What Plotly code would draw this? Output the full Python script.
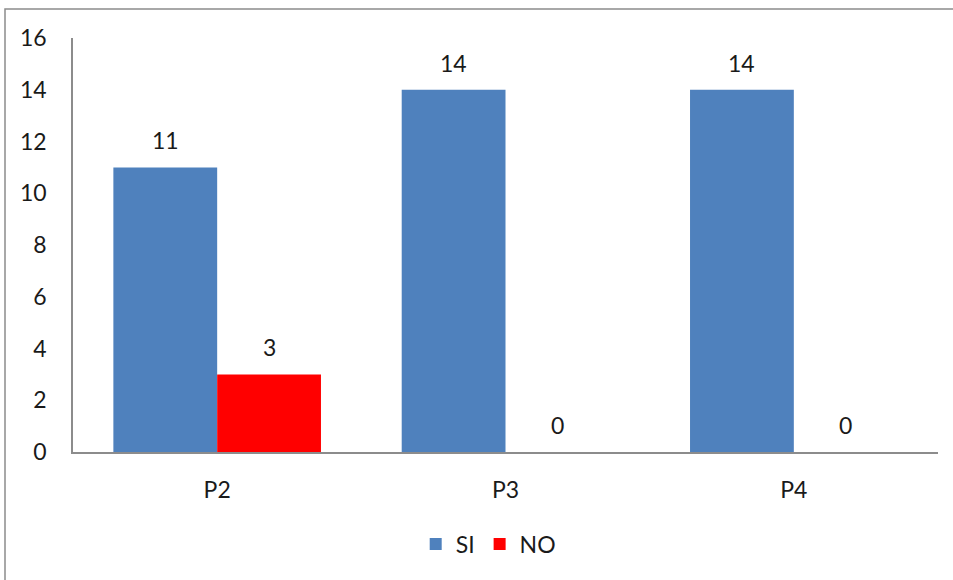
import plotly.graph_objects as go

categories = ["P2", "P3", "P4"]
si_values = [11, 14, 14]
no_values = [3, 0, 0]
y_ticks = [0, 2, 4, 6, 8, 10, 12, 14, 16]

FONT = "Lato, Open Sans, sans-serif"
BLUE = "#4F81BD"
RED = "#FF0000"
TXT = "#1a1a1a"

fig = go.Figure()
fig.add_trace(go.Bar(x=categories, y=si_values, name="SI", marker=dict(color=BLUE, line=dict(width=0))))
fig.add_trace(go.Bar(x=categories, y=no_values, name="NO", marker=dict(color=RED, line=dict(width=0))))

annotations = []
for series, shift in ((si_values, -52), (no_values, 52)):
    for c, v in zip(categories, series):
        annotations.append(dict(x=c, y=v, xref="x", yref="y", text=str(v), showarrow=False,
                                xshift=shift, yshift=27, yanchor="middle",
                                font=dict(family=FONT, size=23, color=TXT)))

L, R, T, B = 73, 15, 38, 128
pw, ph = 953 - L - R, 580 - T - B
# outer chart-area frame (only left and top edges are visible in the picture)
fig.add_shape(type="rect", xref="paper", yref="paper",
              x0=(5 - L) / pw, x1=(1200 - L) / pw,
              y0=-(800 - (T + ph)) / ph, y1=(T + ph - 9) / ph,
              line=dict(color="#8c8c8c", width=1.5), fillcolor="rgba(0,0,0,0)", layer="below")

fig.update_layout(
    width=953, height=580,
    margin=dict(l=L, r=R, t=T, b=B),
    paper_bgcolor="white", plot_bgcolor="white",
    barmode="group", bargap=0.28, bargroupgap=0,
    font=dict(family=FONT, size=23, color=TXT),
    showlegend=True,
    legend=dict(orientation="h", x=0.48, y=(452 - 544) / ph, xanchor="center", yanchor="middle",
                font=dict(family=FONT, size=23, color=TXT), traceorder="normal",
                itemwidth=30, bgcolor="rgba(0,0,0,0)"),
    annotations=annotations,
)
fig.update_xaxes(showline=True, linecolor="#8c8c8c", linewidth=1.5, showgrid=False, ticks="",
                 ticklabelstandoff=17, zeroline=False)
fig.update_yaxes(range=[0, 16], tickvals=y_ticks, showline=True, linecolor="#8c8c8c", linewidth=1.5,
                 showgrid=False, ticks="", ticklabelstandoff=20, zeroline=False)

fig.write_html("out.html")
